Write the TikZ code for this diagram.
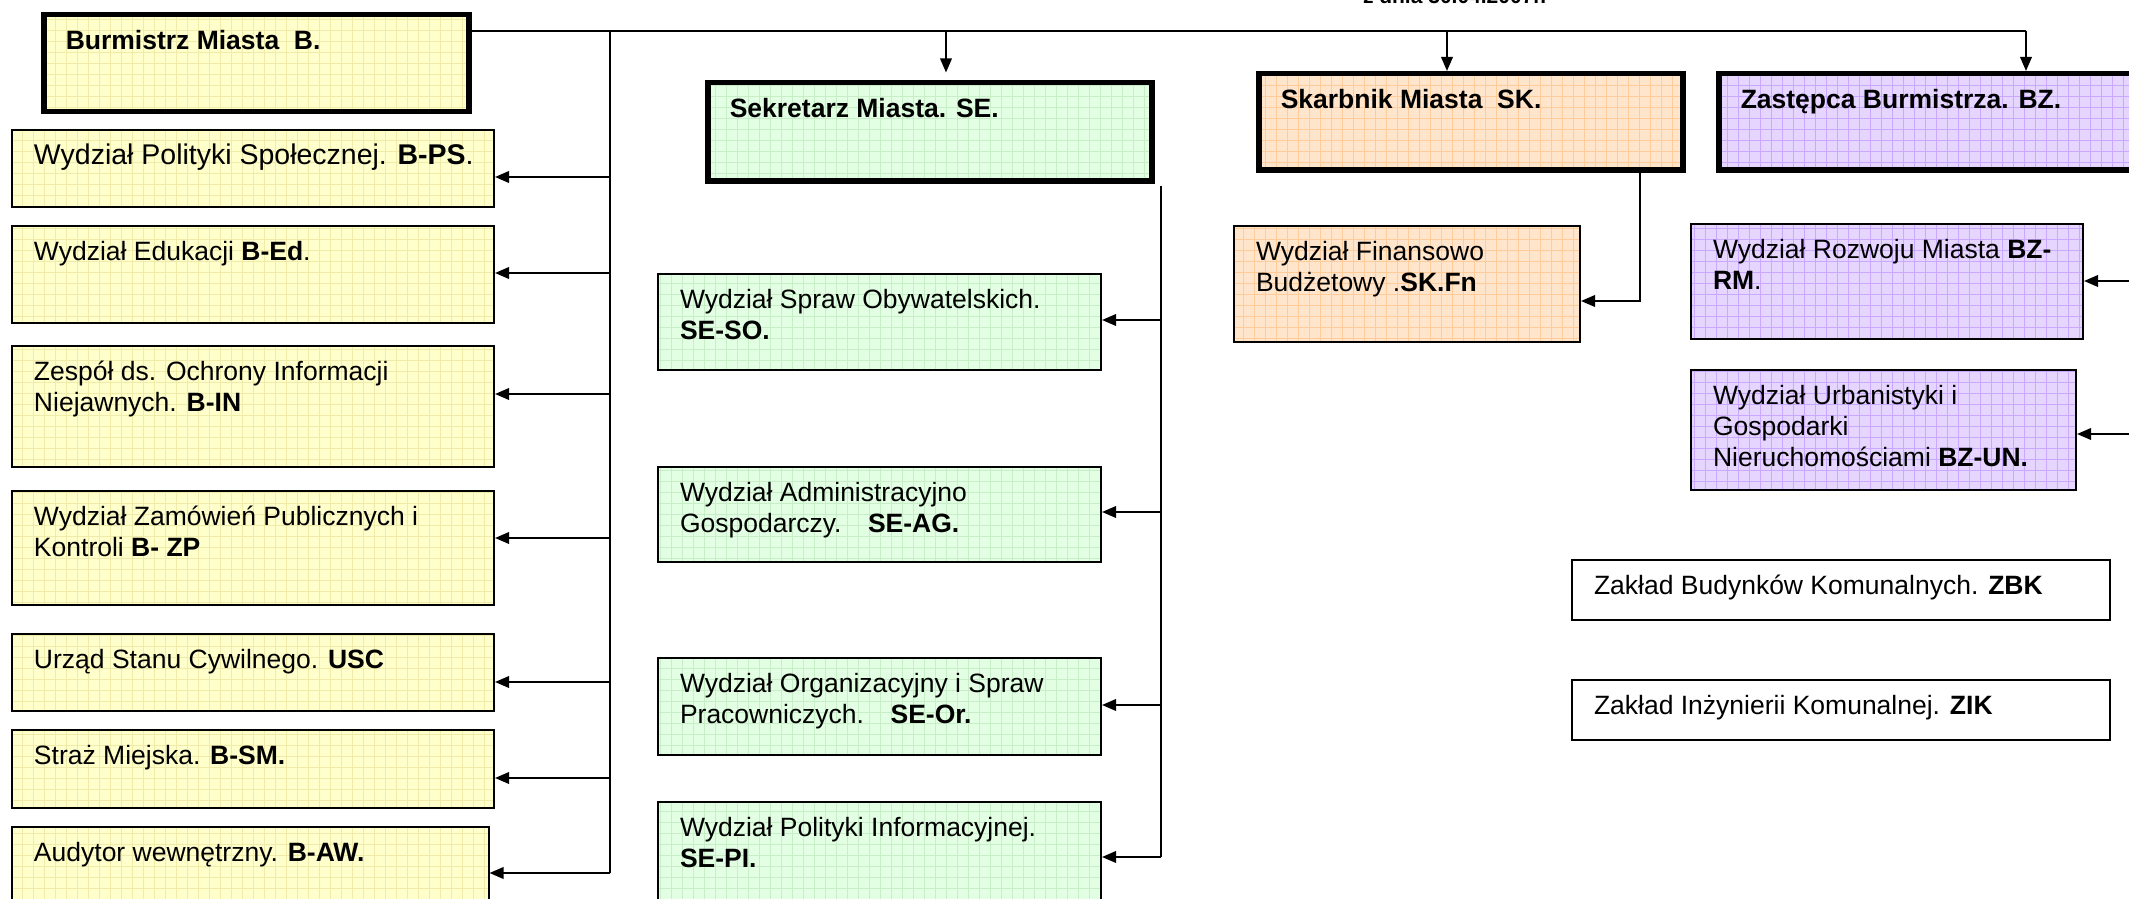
\documentclass[tikz,border=0pt]{standalone}
\usepackage{fontspec}
\setmainfont{Liberation Sans}
\usetikzlibrary{positioning,patterns,arrows.meta}

\definecolor{burfill}{HTML}{FFFFCC}
\definecolor{burgrid}{HTML}{F0EBA8}
\definecolor{secfill}{HTML}{E3FFE3}
\definecolor{secgrid}{HTML}{C8EEC8}
\definecolor{skafill}{HTML}{FFE5CC}
\definecolor{skagrid}{HTML}{FFCC99}
\definecolor{zasfill}{HTML}{E6D6FF}
\definecolor{zasgrid}{HTML}{C9A8FF}

\pgfdeclarepatternformonly{fine grid}{\pgfqpoint{-0.5pt}{-0.5pt}}{\pgfqpoint{4.4pt}{4.4pt}}{\pgfqpoint{4.4pt}{4.4pt}}{
    \pgfsetlinewidth{0.3pt}
    \pgfpathmoveto{\pgfqpoint{0pt}{0pt}}\pgfpathlineto{\pgfqpoint{0pt}{4.5pt}}
    \pgfpathmoveto{\pgfqpoint{0pt}{0pt}}\pgfpathlineto{\pgfqpoint{4.5pt}{0pt}}
    \pgfusepath{stroke}
}

\tikzstyle{org chart}=[
    x=0.4pt, y=-0.4pt, line width=0.8pt,
    >={Triangle[length=5.6pt,width=4.6pt]},
    every node/.style={
        font=\fontsize{10.6}{12.5}\selectfont,
        inner xsep=8.8pt, inner ysep=5pt, anchor=north west,
}]
\tikzstyle{unit}=[draw, line width=0.8pt]
\tikzstyle{head}=[draw, line width=2.2pt, font=\bfseries\fontsize{10.6}{12.5}\selectfont]
\tikzstyle{burm}=[preaction={fill=burfill}, pattern=fine grid, pattern color=burgrid]
\tikzstyle{secr}=[preaction={fill=secfill}, pattern=fine grid, pattern color=secgrid]
\tikzstyle{skar}=[preaction={fill=skafill}, pattern=fine grid, pattern color=skagrid]
\tikzstyle{zast}=[preaction={fill=zasfill}, pattern=fine grid, pattern color=zasgrid]
\newcommand{\unittext}[3]{\parbox[t][#2][t]{#1}{\raggedright\strut#3}}

\begin{document}
\begin{tikzpicture}[org chart]
        \useasboundingbox (0,0) rectangle (2129,899);
        \node[font=\bfseries\fontsize{8.4}{10}\selectfont, anchor=base west, inner sep=0] (date) at (1362,4) {z dnia 30.04.2007r.};

        % Burmistrz
        \node[head, burm] (b) at (41,12) {\unittext{152.4pt}{28.8pt}{Burmistrz Miasta~~B.}};
        \node[unit, burm, font=\fontsize{11.4}{12.5}\selectfont] (bps) at (11,129) {\unittext{175.2pt}{20.8pt}{\mbox{Wydział Polityki Społecznej. \textbf{B-PS}.}}};
        \node[unit, burm] (bed) at (11,225) {\unittext{175.2pt}{28.8pt}{Wydział Edukacji \textbf{B-Ed}.}};
        \node[unit, burm] (bin) at (11,345) {\unittext{175.2pt}{38.4pt}{Zespół ds. Ochrony Informacji\\Niejawnych. \textbf{B-IN}}};
        \node[unit, burm] (bzp) at (11,490) {\unittext{175.2pt}{35.6pt}{Wydział Zamówień Publicznych i\\Kontroli \textbf{B- ZP}}};
        \node[unit, burm] (usc) at (11,633) {\unittext{175.2pt}{20.8pt}{Urząd Stanu Cywilnego. \textbf{USC}}};
        \node[unit, burm] (bsm) at (11,729) {\unittext{175.2pt}{21.2pt}{Straż Miejska. \textbf{B-SM.}}};
        \node[unit, burm] (baw) at (11,826) {\unittext{173pt}{26pt}{Audytor wewnętrzny. \textbf{B-AW.}}};

        % Sekretarz
        \node[head, secr] (se) at (705,80) {\unittext{160pt}{29.2pt}{Sekretarz Miasta. SE.}};
        \node[unit, secr] (seso) at (657,273) {\unittext{159.6pt}{28.4pt}{Wydział Spraw Obywatelskich.\\\textbf{SE-SO.}}};
        \node[unit, secr] (seag) at (657,466) {\unittext{159.6pt}{28pt}{Wydział Administracyjno\\Gospodarczy.\quad\textbf{SE-AG.}}};
        \node[unit, secr] (seor) at (657,657) {\unittext{159.6pt}{28.8pt}{Wydział Organizacyjny i Spraw\\Pracowniczych.\quad\textbf{SE-Or.}}};
        \node[unit, secr] (sepi) at (657,801) {\unittext{159.6pt}{30pt}{Wydział Polityki Informacyjnej.\\\textbf{SE-PI.}}};

        % Skarbnik
        \node[head, skar] (sk) at (1256,71) {\unittext{152pt}{28.4pt}{Skarbnik Miasta~~SK.}};
        \node[unit, skar] (skfn) at (1233,225) {\unittext{120.8pt}{36.4pt}{Wydział Finansowo\\Budżetowy .\textbf{SK.Fn}}};

        % Zastepca
        \node[head, zast] (bz) at (1716,71) {\unittext{158.4pt}{28.4pt}{Zastępca Burmistrza. BZ.}};
        \node[unit, zast] (bzrm) at (1690,223) {\unittext{139.2pt}{36pt}{Wydział Rozwoju Miasta \textbf{BZ-}\\\textbf{RM}.}};
        \node[unit, zast] (bzun) at (1690,369) {\unittext{136.4pt}{38pt}{Wydział Urbanistyki i\\Gospodarki\\Nieruchomościami \textbf{BZ-UN.}}};
        \node[unit, fill=white] (zbk) at (1571,559) {\unittext{197.6pt}{14pt}{Zakład Budynków Komunalnych. \textbf{ZBK}}};
        \node[unit, fill=white] (zik) at (1571,679) {\unittext{197.6pt}{14pt}{Zakład Inżynierii Komunalnej. \textbf{ZIK}}};

        \coordinate (lbus top) at (610,31);
        \coordinate (lbus end) at (610,873);
        \coordinate (se drop) at (946,31);
        \coordinate (sk drop) at (1447,31);
        \coordinate (bz drop) at (2026,31);
        \coordinate (sebus top) at (1161,186);
        \coordinate (sebus end) at (1161,857);
        \coordinate (sk turn) at (1640,301);

        \draw (b.east |- lbus top) -- (bz drop);
        \draw[->] (se drop) -- ([yshift=3pt]se drop |- se.north);
        \draw[->] (sk drop) -- (sk drop |- sk.north);
        \draw[->] (bz drop) -- (bz drop |- bz.north);
        \draw (lbus top) -- (lbus end);
        \foreach \n/\y in {bps/177, bed/273, bin/394, bzp/538, usc/682, bsm/778, baw/873}
            \draw[->] (lbus top |- 0,\y) -- (\n.east |- 0,\y);
        \draw (sebus top) -- (sebus end);
        \foreach \n/\y in {seso/320, seag/512, seor/705, sepi/857}
            \draw[->] (sebus top |- 0,\y) -- (\n.east |- 0,\y);
        \draw[->] (sk turn |- sk.south) -- (sk turn) -- (sk turn -| skfn.east);
        \foreach \n/\y in {bzrm/281, bzun/434}
            \draw[->] (2140,\y) -- (\n.east |- 0,\y);
    \end{tikzpicture}
\end{document}
